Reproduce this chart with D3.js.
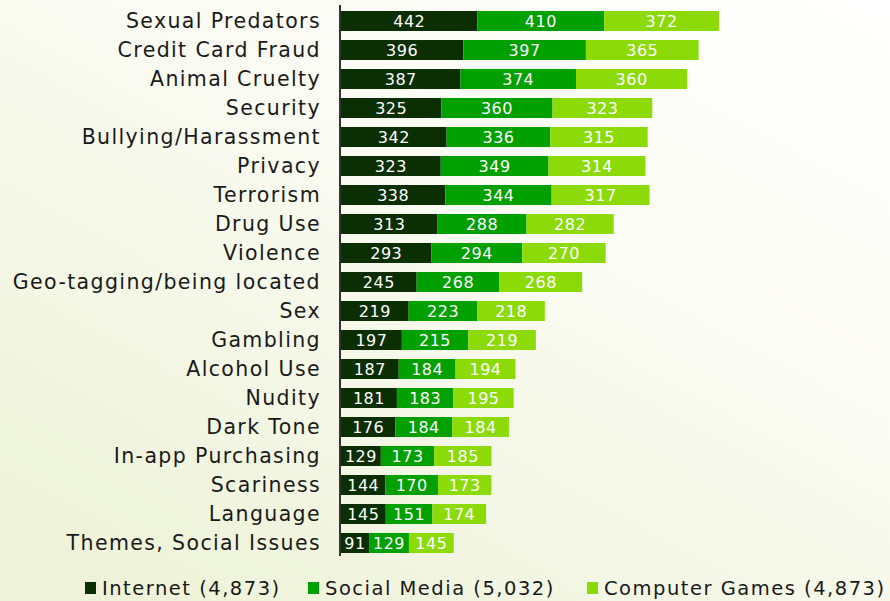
<!DOCTYPE html>
<html>
<head>
<meta charset="utf-8">
<script src="https://cdn.jsdelivr.net/npm/d3@7"></script>
<style>
  html, body { margin: 0; padding: 0; }
  body { width: 890px; height: 601px; overflow: hidden; }
  svg { display: block; }
</style>
</head>
<body>
<svg id="chart" width="890" height="601"></svg>
<script>
// Concern categories, top to bottom
const categories = [
  "Sexual Predators", "Credit Card Fraud", "Animal Cruelty", "Security",
  "Bullying/Harassment", "Privacy", "Terrorism", "Drug Use", "Violence",
  "Geo-tagging/being located", "Sex", "Gambling", "Alcohol Use", "Nudity",
  "Dark Tone", "In-app Purchasing", "Scariness", "Language", "Themes, Social Issues"
];
const internet     = [442, 396, 387, 325, 342, 323, 338, 313, 293, 245, 219, 197, 187, 181, 176, 129, 144, 145, 91];
const socialMedia  = [410, 397, 374, 360, 336, 349, 344, 288, 294, 268, 223, 215, 184, 183, 184, 173, 170, 151, 129];
const computerGames= [372, 365, 360, 323, 315, 314, 317, 282, 270, 268, 218, 219, 194, 195, 184, 185, 173, 174, 145];
const seriesNames  = ["Internet (4,873)", "Social Media (5,032)", "Computer Games (4,873)"];
const seriesColors = ["#0b2e02", "#01a001", "#8cdb08"];

const svg = d3.select("#chart");
const W = 890, H = 601;
const FONT = "'DejaVu Sans', sans-serif";

// soft diagonal backdrop
const defs = svg.append("defs");
const grad = defs.append("linearGradient").attr("id", "bg")
  .attr("x1", "1").attr("y1", "0").attr("x2", "0.2").attr("y2", "1");
grad.append("stop").attr("offset", "0").attr("stop-color", "#ffffff");
grad.append("stop").attr("offset", "0.45").attr("stop-color", "#fafbf2");
grad.append("stop").attr("offset", "1").attr("stop-color", "#eef3d9");
svg.append("rect").attr("width", W).attr("height", H).attr("fill", "url(#bg)");

const rows = categories.map((c, i) => ({ cat: c, vals: [internet[i], socialMedia[i], computerGames[i]] }));
const stack = d3.stack().keys([0, 1, 2]).value((d, k) => d.vals[k]);
const layers = stack(rows);

const x0 = 341;
const x = d3.scaleLinear().domain([0, 1224]).range([x0, 719]);
const y = d3.scaleBand().domain(categories).range([6.5, 557.5]).paddingInner(0.31).paddingOuter(0.155);

const g = svg.append("g");
layers.forEach((layer, k) => {
  const lg = g.append("g");
  lg.selectAll("rect").data(layer).join("rect")
    .attr("x", d => x(d[0]))
    .attr("y", d => y(d.data.cat))
    .attr("width", d => x(d[1]) - x(d[0]))
    .attr("height", y.bandwidth())
    .attr("fill", seriesColors[k]);
  lg.selectAll("text").data(layer).join("text")
    .attr("x", d => (x(d[0]) + x(d[1])) / 2)
    .attr("y", d => y(d.data.cat) + y.bandwidth() / 2)
    .attr("dy", "0.36em")
    .attr("text-anchor", "middle")
    .attr("fill", "#ffffff")
    .style("font-family", FONT)
    .style("font-size", "16px")
    .style("letter-spacing", "0.5px")
    .text(d => d.data.vals[k]);
});

// category axis
const axis = d3.axisLeft(y).tickSize(0).tickPadding(19);
const ag = svg.append("g").attr("transform", `translate(${x0 - 1},0)`).call(axis);
ag.select(".domain").attr("stroke", "#333").attr("stroke-width", 2).attr("d", "M0,5V556");
ag.selectAll("text")
  .attr("fill", "#1a1a1a")
  .style("font-family", FONT)
  .style("font-size", "20.5px")
  .style("letter-spacing", "1.38px");

// legend
const legend = svg.append("g").attr("transform", "translate(0,588)");
const legSq = [85, 308, 587];
seriesNames.forEach((name, k) => {
  legend.append("rect").attr("x", legSq[k]).attr("y", -6).attr("width", 11).attr("height", 12)
    .attr("fill", seriesColors[k]);
  legend.append("text").attr("x", legSq[k] + 17).attr("y", 0).attr("dy", "0.36em")
    .attr("fill", "#1a1a1a")
    .style("font-family", FONT).style("font-size", "19.5px")
    .style("letter-spacing", "1.5px")
    .text(name);
});
</script>
</body>
</html>
